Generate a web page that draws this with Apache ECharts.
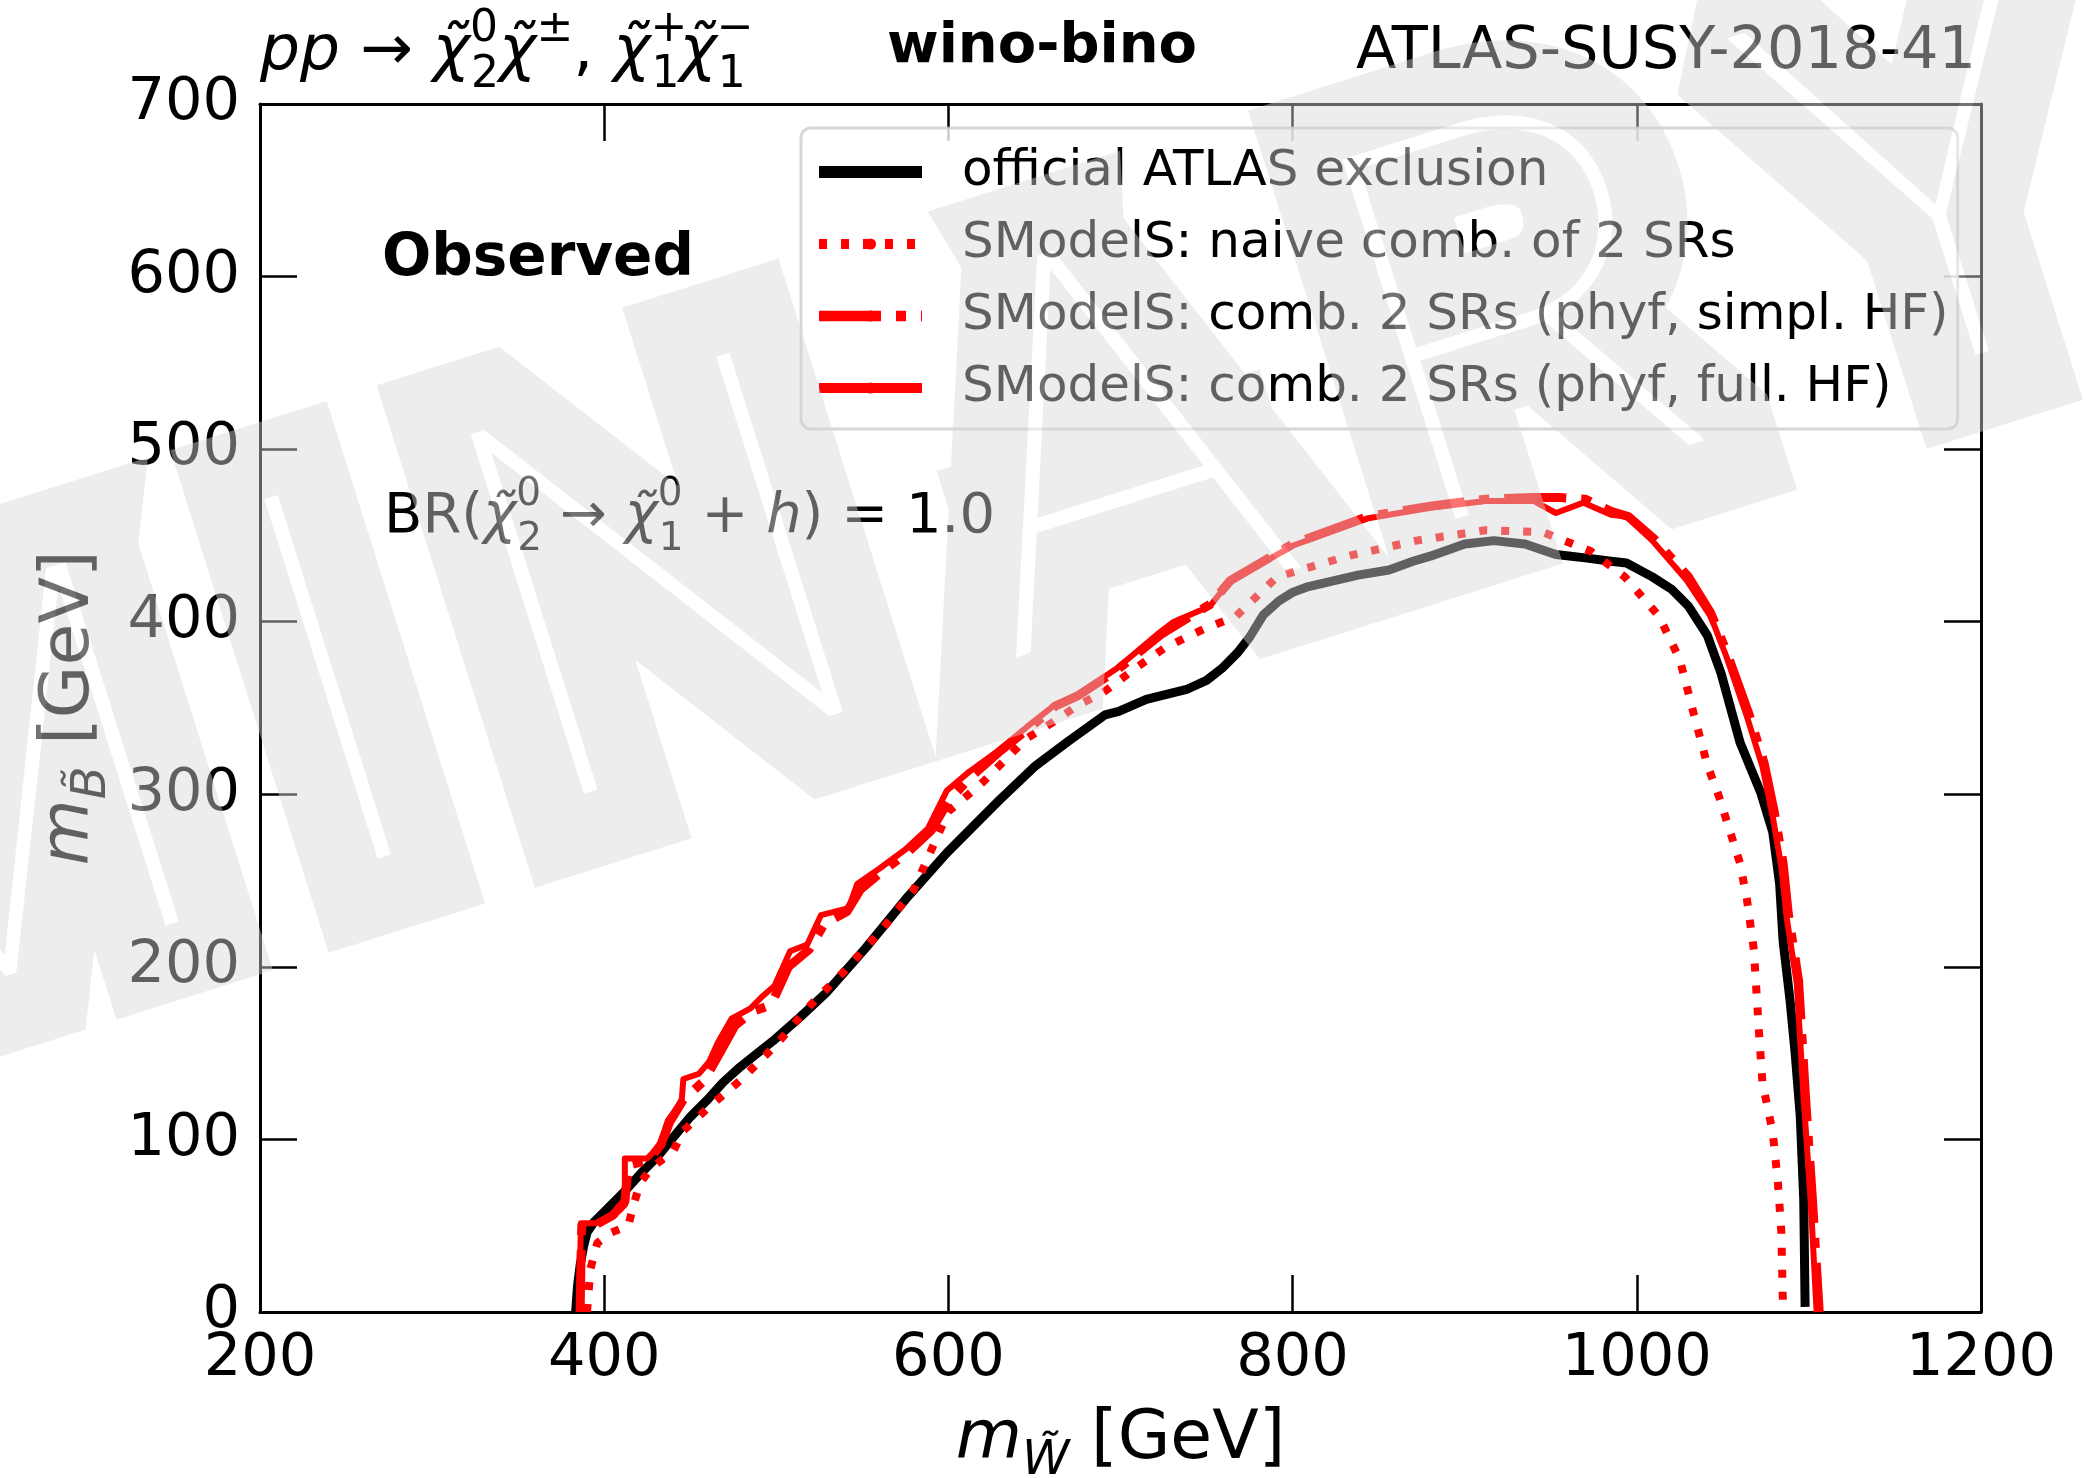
<!DOCTYPE html>
<html><head><meta charset="utf-8">
<script src="https://cdn.jsdelivr.net/npm/echarts/dist/echarts.min.js"></script>
<style>html,body{margin:0;padding:0;background:#fff}#c{width:2089px;height:1478px}</style>
</head><body><div id="c"></div>
<script>
// ---- data (GeV) ----
const xRange = [200, 1200];
const xStep = 200;
const yRange = [0, 700];
const yStep = 100;

const officialAtlas = [[383.4,0],[384.5,15],[386,27],[388,38],[390,46],[394,52],[401,59],[411,69],[421,80],[431,90],[440,101],[450,113],[460,123],[469,133],[479,142],[489,150],[498,157],[514,171],[529,185],[552,211],[575,239],[599,266],[622,289],[630,297],[650,316],[670,331],[691,346],[699,348],[715,355],[739,361],[750,366],[759,373],[768,382],[775,391],[783,404],[792,412],[800,417],[808,420],[838,427],[856,430],[870,435],[880,438],[900,445],[917,447],[935,445],[953,439],[970,437],[985,435],[994,434],[1009,426],[1020,419],[1030,409],[1041,392],[1049,370],[1060,330],[1072,301],[1079,278],[1083,248],[1085,215],[1089,181],[1092,150],[1095,113],[1097,65],[1097.8,3]];

const naiveComb = [[390,0],[392,25],[396,40],[404,46],[414,50],[417,62],[421,75],[428,84],[440,93],[446,105],[460,118],[480,135],[500,155],[520,178],[540,198],[560,220],[580,245],[600,290],[620,307],[645,332],[661,342],[676,352],[690,359],[710,374],[726,385],[749,396],[767,403],[791,426],[832,438],[872,447],[912,453],[945,452],[973,441],[993,426],[1013,403],[1025,378],[1033,347],[1041,317],[1048,298],[1054,279],[1060,260],[1064,239],[1068,210],[1071,162],[1073,133],[1079,104],[1082,75],[1084,46],[1085,0]];

const simplHF = [[386,0],[386.5,30],[387,50],[396,51],[405,56],[412,64],[414,85],[426,88],[433,97],[438,110],[446,123],[458,134],[466,148],[476,166],[486,174],[497,178],[507,200],[519,210],[528,225],[541,232],[549,245],[561,255],[576,266],[590,279],[600,296],[613,310],[630,325],[649,340],[662,351],[675,357],[698,372],[724,393],[752,410],[764,424],[800,445],[844,461],[880,467],[912,471],[940,472],[955,472],[970,471],[985,464],[995,461],[1010,448],[1030,426],[1043,405],[1052,383],[1065,347],[1074,318],[1080,289],[1085,260],[1088,231],[1094,192],[1098,125],[1102,66],[1106,0]];

const fullHF = [[385.9,0],[386,30],[386.5,51.5],[395.6,51.5],[400,53],[409,59],[412,62],[412,89],[425,89],[432,96],[437,111],[445,122],[446,135],[455,138],[461,145],[466,156],[474,170],[485,176],[492,183],[499,189],[508,209],[518,213],[526,230],[542,234],[547,248],[560,257],[575,268],[588,280],[599,302],[612,313],[630,326],[648,341],[662,352],[674,357],[698,373],[723,394],[731,400],[752,409],[763,423],[800,444],[844,460],[880,466],[912,470],[940,470],[953,463],[969,469],[985,462],[994,461],[1009,447],[1029,424],[1043,403],[1052,380],[1064,345],[1073,316],[1079,287],[1084,258],[1087,229],[1093,190],[1097,123],[1101,65],[1104.5,0]];

const seriesNames = [
  'official ATLAS exclusion',
  'SModelS: naive comb. of 2 SRs',
  'SModelS: comb. 2 SRs (phyf, simpl. HF)',
  'SModelS: comb. 2 SRs (phyf, full. HF)'
];

const watermarkLetters = ['P','R','E','L','I','M','I','N','A','R','Y'];

// ---- styling / layout ----
const F = "'DejaVu Sans', 'Liberation Sans', sans-serif";
const seriesData = [officialAtlas, naiveComb, simplHF, fullHF];
const seriesStyle = [
  {color:'#000000', width:9, type:'solid', legendWidth:12},
  {color:'#ff0000', width:8, type:[8,14], legendWidth:10},
  {color:'#ff0000', width:9, type:[62,15,10,15], legendWidth:10.5},
  {color:'#ff0000', width:6, type:'solid', legendWidth:10}
];
// watermark letter centres along its (rotated) baseline, px
const wmCentres = [-2050,-1620,-1190,-760,-335,-282,109,454,921,1355,1785];
const wmAngle = 17.5;
const wmMidY = 800;

function mathRich(base, fillKey, lh) {
  const c = {}; c[fillKey] = '#000';
  lh = lh || 84;
  const s = Math.round(base*0.7);
  return {
    n:   Object.assign({fontSize:base, fontFamily:F, lineHeight:lh, verticalAlign:'middle'}, c),
    it:  Object.assign({fontSize:base, fontFamily:F, fontStyle:'italic', lineHeight:lh, verticalAlign:'middle'}, c),
    sup: Object.assign({fontSize:s, fontFamily:F, lineHeight:Math.round(lh*0.48), verticalAlign:'top'}, c),
    supS:Object.assign({fontSize:s, fontFamily:F, lineHeight:Math.round(lh*0.48), verticalAlign:'top', width:1}, c),
    sub: Object.assign({fontSize:s, fontFamily:F, lineHeight:Math.round(lh*0.48), verticalAlign:'bottom'}, c),
    subI:Object.assign({fontSize:s, fontFamily:F, fontStyle:'italic', lineHeight:Math.round(lh*0.48), verticalAlign:'bottom'}, c)
  };
}

function axis(pos, showLabel, range, step, isX) {
  return {
    type:'value', position:pos, min:range[0], max:range[1], interval:step,
    axisLine:{show:true, onZero:false, lineStyle:{color:'#000', width:3}},
    axisTick:{show:true, inside:true, length:37, lineStyle:{color:'#000', width:2.5}},
    axisLabel:{show:showLabel, color:'#000', fontSize:59, fontFamily:F, margin: isX ? 18 : 20,
               formatter: v => String(v)},
    splitLine:{show:false}
  };
}

const chart = echarts.init(document.getElementById('c'), null, {renderer:'canvas'});

const xMain = axis('bottom', true, xRange, xStep, true);
xMain.name = '{it|m}{subI|W̃}{n| [GeV]}';
xMain.nameLocation = 'middle';
xMain.nameGap = 82;
xMain.nameTextStyle = {fontSize:68, fontFamily:F, color:'#000', rich: mathRich(68, 'color', 92)};
const yMain = axis('left', true, yRange, yStep, false);
yMain.name = '{it|m}{subI|B̃}{n| [GeV]}';
yMain.nameLocation = 'middle';
yMain.nameGap = 138;
yMain.nameTextStyle = {fontSize:68, fontFamily:F, color:'#000', rich: mathRich(68, 'color', 92)};

// watermark: pass 1 = thick grey outlines, pass 2 = thin white letter cores
const wmFont = "100 530px Roboto, Inter, 'DejaVu Sans'";
const wmChildren = [];
watermarkLetters.forEach((ch, i) => {
  wmChildren.push({type:'text', x:wmCentres[i], y:wmMidY, zlevel:5, z:1, silent:true, style:{
    text:ch, font:wmFont, fill:null, stroke:'rgb(215,215,215)', lineWidth:150,
    align:'center', verticalAlign:'middle', textAlign:'center', textVerticalAlign:'middle'}});
});
watermarkLetters.forEach((ch, i) => {
  wmChildren.push({type:'text', x:wmCentres[i], y:wmMidY, zlevel:5, z:2, silent:true, style:{
    text:ch, font:wmFont, fill:'#ffffff', stroke:null, lineWidth:0,
    align:'center', verticalAlign:'middle', textAlign:'center', textVerticalAlign:'middle'}});
});

const option = {
  backgroundColor:'#ffffff',
  animation:false,
  grid:{left:260, right:108, top:104, bottom:166, outerBoundsMode:'none', containLabel:false},
  xAxis:[xMain, axis('top', false, xRange, xStep, true)],
  yAxis:[yMain, axis('right', false, yRange, yStep, false)],
  legend:{
    orient:'vertical', left:801, top:128,
    padding:[18,9,15,12],
    itemWidth:103, itemHeight:14, itemGap:20,
    backgroundColor:'rgba(255,255,255,0.8)',
    borderColor:'rgba(204,204,204,0.8)', borderWidth:3, borderRadius:10,
    textStyle:{fontSize:50, fontFamily:F, color:'#000', lineHeight:52, padding:[0,0,0,35]},
    data: seriesNames.map((n,i)=>({name:n, lineStyle:{width:seriesStyle[i].legendWidth}}))
  },
  series: seriesNames.map((n,i)=>({
    name:n, type:'line', data:seriesData[i], xAxisIndex:0, yAxisIndex:0,
    symbol:'none', showSymbol:false, smooth:false, z: 2+i,
    lineStyle:{color:seriesStyle[i].color, width:seriesStyle[i].width, type:seriesStyle[i].type, cap:'butt', join:'round'},
    itemStyle:{color:seriesStyle[i].color},
    emphasis:{disabled:true}
  })),
  graphic:[
    {type:'text', x:260, y:53, z:50, silent:true, style:{
      text:'{it|pp}{n| → }{it|χ̃}{supS|0}{sub|2}{it|χ̃}{sup|±}{n|, }{it|χ̃}{supS|+}{sub|1}{it|χ̃}{supS|−}{sub|1}',
      rich: mathRich(63, 'fill', 90), align:'left', verticalAlign:'middle', textAlign:'left', textVerticalAlign:'middle'}},
    {type:'text', x:1042, y:47, z:50, silent:true, style:{
      text:'wino-bino', font:"bold 56px 'DejaVu Sans'", fill:'#000', align:'center', verticalAlign:'middle', textAlign:'center', textVerticalAlign:'middle'}},
    {type:'text', x:1976, y:53, z:50, silent:true, style:{
      text:'ATLAS-SUSY-2018-41', font:"59px 'DejaVu Sans'", fill:'#000', align:'right', verticalAlign:'middle', textAlign:'right', textVerticalAlign:'middle'}},
    {type:'text', x:382, y:260, z:50, silent:true, style:{
      text:'Observed', font:"bold 58px 'DejaVu Sans'", fill:'#000', align:'left', verticalAlign:'middle', textAlign:'left', textVerticalAlign:'middle'}},
    {type:'text', x:384, y:517, z:50, silent:true, style:{
      text:'{n|BR(}{it|χ̃}{supS|0}{sub|2}{n| → }{it|χ̃}{supS|0}{sub|1}{n| + }{it|h}{n|) = 1.0}',
      rich: mathRich(56, 'fill'), align:'left', verticalAlign:'middle', textAlign:'left', textVerticalAlign:'middle'}},
    {type:'group', x:0, y:0, rotation:wmAngle*Math.PI/180, zlevel:5, silent:true, children: wmChildren}
  ]
};
chart.setOption(option);

function fadeWatermarkLayer() {
  try {
    const painter = chart.getZr().painter;
    const layer = painter.getLayer ? painter.getLayer(5) : null;
    if (layer && layer.dom) layer.dom.style.opacity = '0.45';
  } catch (e) {}
}
chart.getZr().flush && chart.getZr().flush();
fadeWatermarkLayer();
setTimeout(fadeWatermarkLayer, 0);
</script></body></html>
